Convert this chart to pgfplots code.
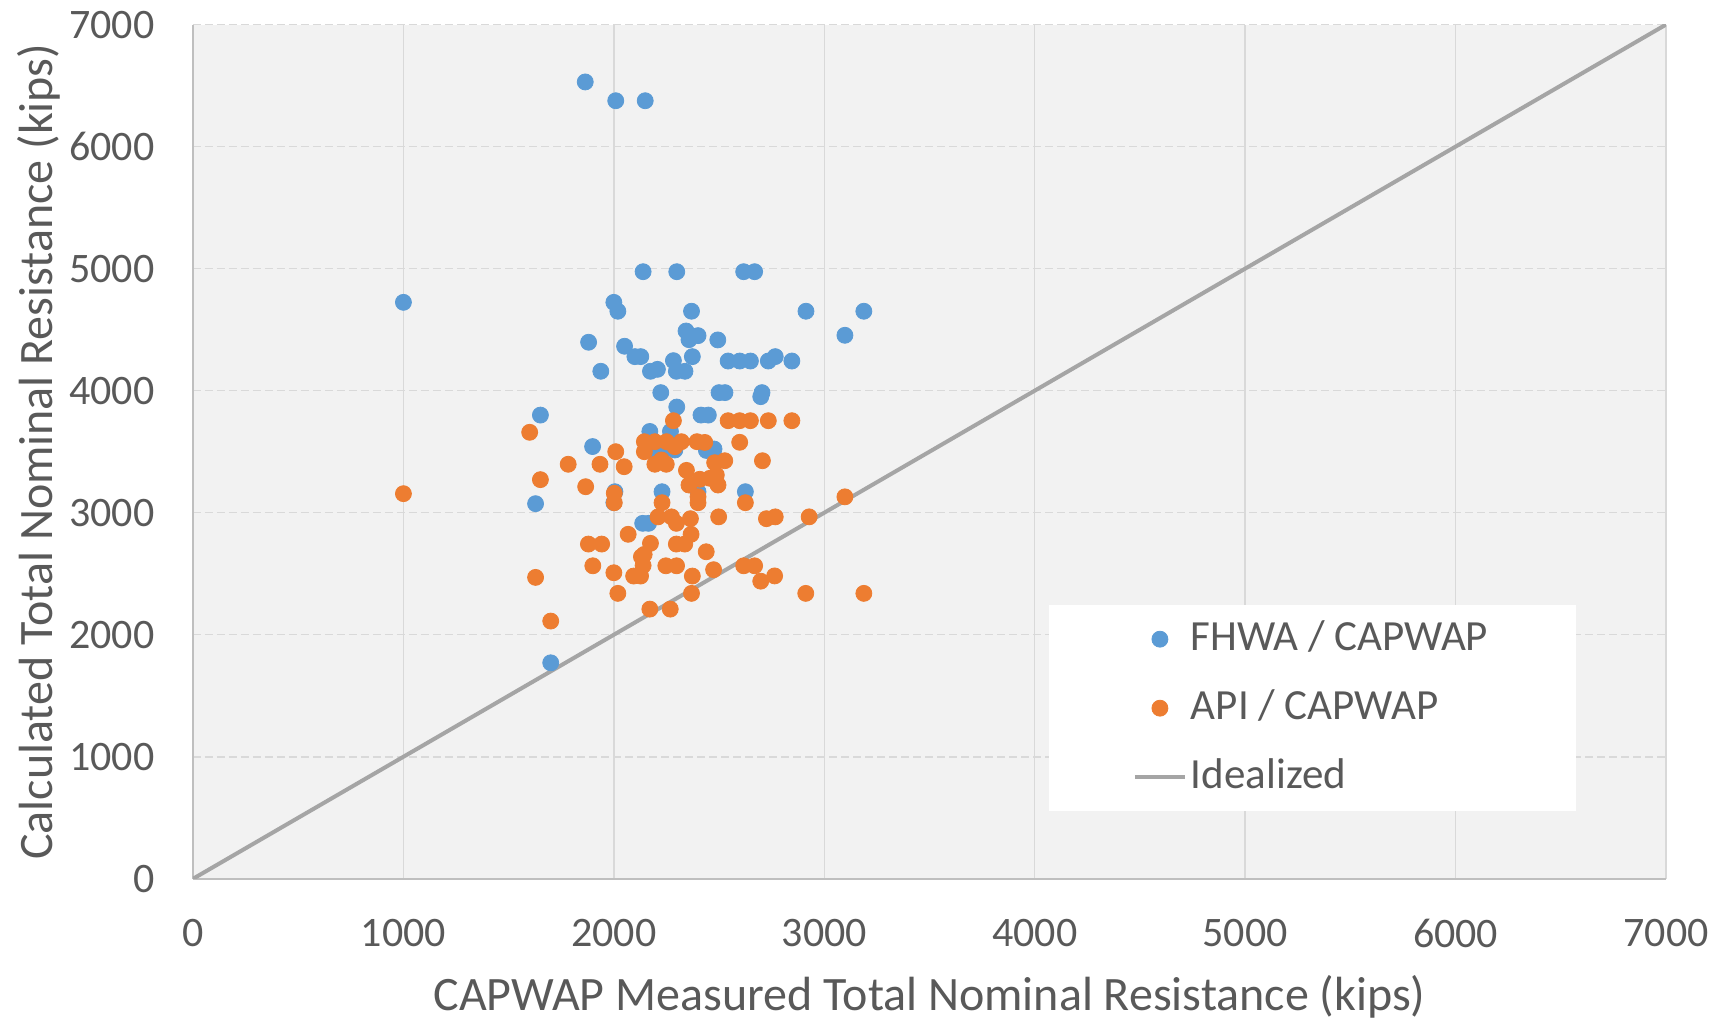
\documentclass[border=0pt]{standalone}
\usepackage{pgfplots}
\pgfplotsset{compat=1.18}
\usepackage{fontspec}
\setmainfont{Carlito}
\definecolor{fhwa}{HTML}{5B9BD5}
\definecolor{api}{HTML}{ED7D31}
\definecolor{ideal}{HTML}{A5A5A5}
\definecolor{txt}{HTML}{595959}
\definecolor{gridc}{HTML}{D9D9D9}
\definecolor{axisc}{HTML}{BFBFBF}
\definecolor{bg}{HTML}{F2F2F2}
\begin{document}
\begin{tikzpicture}
\path[use as bounding box] (-96.5pt,-71pt) rectangle (768pt,439.4pt);
\begin{axis}[
  scale only axis, width=736.5pt, height=427.1pt,
  xmin=0, xmax=7000, ymin=0, ymax=7000,
  xtick={0,1000,...,7000}, ytick={0,1000,...,7000},
  scaled ticks=false,
  /pgf/number format/1000 sep={},
  /pgf/number format/assume math mode=true,
  axis background/.style={fill=bg},
  axis x line*=bottom, axis y line*=left,
  axis line style={draw=axisc, line width=0.75pt, -},
  grid=major,
  x grid style={gridc, line width=0.75pt},
  y grid style={gridc, line width=0.75pt, dash pattern=on 4pt off 2pt},
  major tick length=0pt,
  tick style={draw=none},
  tick label style={font=\fontsize{21}{25}\selectfont, text=txt},
  xticklabel style={yshift=-16.8pt},
  yticklabel style={xshift=-15.7pt},
  xlabel={CAPWAP Measured Total Nominal Resistance (kips)},
  ylabel={Calculated Total Nominal Resistance (kips)},
  every axis x label/.style={at={(axis description cs:0.5,-0.1054)}, anchor=north,
    font=\fontsize{24}{29}\selectfont, text=txt},
  every axis y label/.style={at={(axis description cs:-0.0855,0.5)}, rotate=90, anchor=south,
    font=\fontsize{24}{29}\selectfont, text=txt},
  legend style={at={(0.5808,0.3208)}, anchor=north west, fill=white, draw=none,
    font=\fontsize{21.5}{26}\selectfont, text=txt, inner xsep=42pt, inner ysep=5.5pt,
    row sep=11.5pt, column sep=0pt,
    nodes={inner sep=2pt, text height=15pt, text depth=4pt}},
  legend cell align=left,
  legend image code/.code={\draw[mark repeat=2,mark phase=2,#1] plot coordinates {(0pt,0pt)(12.5pt,0pt)(25pt,0pt)};},
]
\addplot[ideal, line width=2pt, forget plot] coordinates {(0,0) (7000,7000)};

\addplot[only marks, mark=*, mark size=4pt, mark options={draw=fhwa, fill=fhwa}] table {
x y
1864 6530
2009 6376
2149 6376
2139 4975
2299 4975
2617 4975
2669 4975
1000 4724
2000 4724
2019 4651
2369 4651
2913 4651
3188 4651
3098 4454
2343 4489
2400 4451
2357 4418
2494 4416
1880 4397
2051 4364
2100 4279
2128 4279
2283 4246
2373 4279
2543 4243
2598 4243
2649 4243
2734 4243
2767 4279
2846 4243
1938 4159
2174 4159
2207 4175
2297 4159
2338 4159
2223 3984
2500 3984
2528 3984
2704 3984
2698 3951
2299 3866
1651 3800
2414 3800
2449 3800
2171 3666
2269 3666
1899 3542
2171 3514
2242 3516
2290 3514
2440 3510
2476 3522
2005 3172
2000 3082
2229 3172
2400 3172
2625 3172
1628 3074
2137 2913
2165 2913
1700 1770
};
\addlegendentry{FHWA / CAPWAP}

\addplot[only marks, mark=*, mark size=4pt, mark options={draw=api, fill=api}] table {
x y
2283 3754
2543 3754
2598 3754
2649 3754
2734 3754
2846 3754
1600 3659
2145 3582
2195 3582
2250 3582
2321 3582
2395 3582
2432 3576
2598 3577
2145 3500
2009 3500
2290 3541
1783 3397
1934 3397
2049 3377
2195 3397
2249 3397
2226 3432
2479 3410
2527 3426
2706 3426
2345 3347
1651 3271
2408 3274
2456 3282
2487 3309
2357 3227
2495 3227
1866 3213
1000 3156
2002 3159
2002 3082
2229 3082
2400 3131
2400 3082
2625 3082
3098 3130
2210 2966
2274 2966
2297 2913
2364 2951
2498 2966
2725 2951
2767 2966
2928 2966
2068 2823
2367 2823
1879 2743
1942 2743
2174 2749
2297 2743
2337 2743
2144 2658
2131 2639
2439 2680
1900 2565
2139 2567
2247 2565
2298 2565
2617 2565
2669 2565
2474 2533
1628 2470
2000 2508
2094 2481
2127 2481
2373 2481
2698 2439
2764 2482
2019 2339
2369 2339
2912 2339
3188 2339
2171 2210
2268 2210
1700 2112
};
\addlegendentry{API / CAPWAP}

\addlegendimage{ideal, line width=2pt}
\addlegendentry{Idealized}
\end{axis}
\end{tikzpicture}
\end{document}
